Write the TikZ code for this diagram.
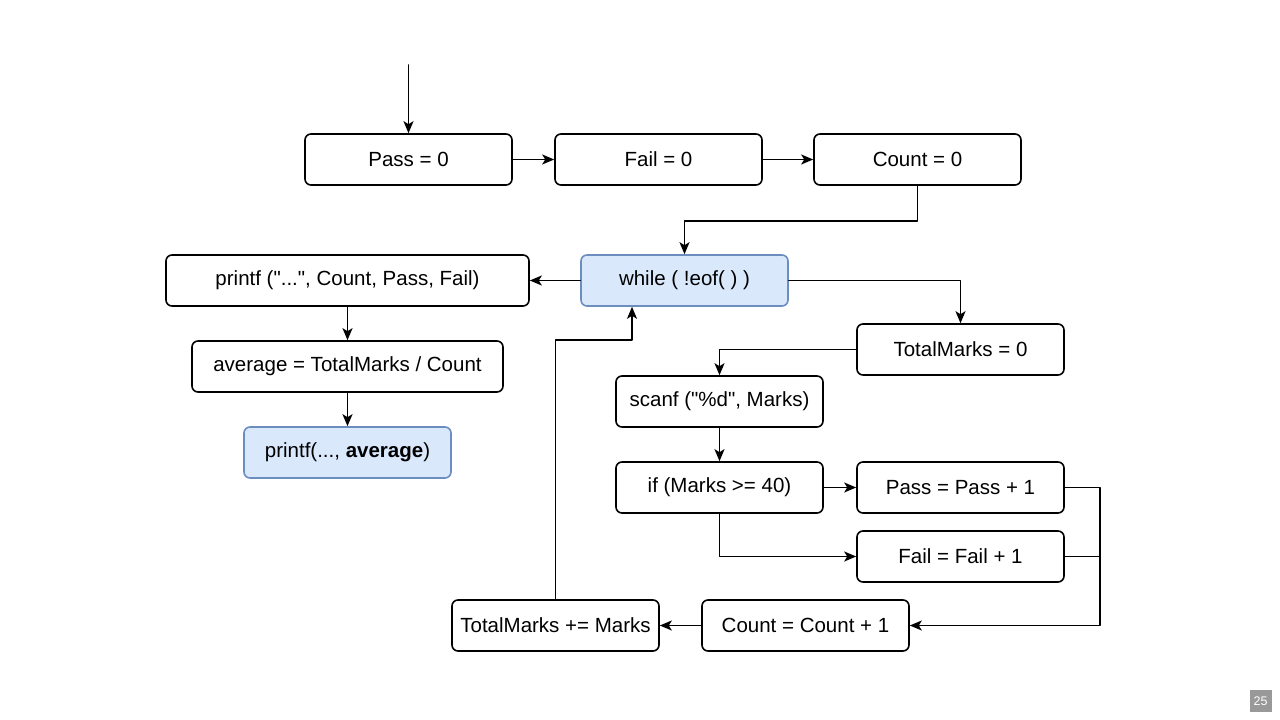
\documentclass[tikz,border=0pt]{standalone}
\usepackage{fontspec}
\setmainfont{Liberation Sans}[Ligatures=TeXOff]
\usetikzlibrary{calc}
\usetikzlibrary{arrows.meta}
\definecolor{loopfill}{HTML}{DAE8FC}
\definecolor{loopdraw}{HTML}{6C8EBF}

\begin{document}
\begin{tikzpicture}[x=1pt, y=-1pt, line cap = round, line join = round, >={Stealth[length=12pt, width=10pt, inset=3pt]}, font=\fontsize{20.5}{24}\selectfont]
\tikzstyle{stepbox}=[draw=black, rounded corners=6pt, line width=1.6pt, minimum width=207pt, minimum height=51pt, inner sep=0pt]
\tikzstyle{loopbox}=[stepbox, fill=loopfill, draw=loopdraw]
\tikzstyle{link}=[line width=1.6pt, ->]
\useasboundingbox (0,0) rectangle (1280,720);

\node[stepbox] (pass0) at (408.5,159.5) {Pass = 0};
\node[stepbox] (fail0) at (658.5,159.5) {Fail = 0};
\node[stepbox] (count0) at (917.5,159.5) {Count = 0};
\node[loopbox] (while) at (684.5,280.5) {while ( !eof( ) )};
\node[stepbox, minimum width=363pt] (print) at (347.5,280.5) {printf ("...", Count, Pass, Fail)};
\node[stepbox, minimum width=311pt] (avg) at (347.5,366.5) {average = TotalMarks / Count};
\node[loopbox] (printavg) at (347.5,452.5) {printf(..., \textbf{average})};
\node[stepbox] (tm0) at (960.5,349.5) {TotalMarks = 0};
\node[stepbox] (scan) at (719.5,401.5) {scanf ("\%d", Marks)};
\node[stepbox] (test) at (719.5,487.5) {if (Marks >= 40)};
\node[stepbox] (pass1) at (960.5,487.5) {Pass = Pass + 1};
\node[stepbox] (fail1) at (960.5,556.5) {Fail = Fail + 1};
\node[stepbox] (count1) at (805.5,625.5) {Count = Count + 1};
\node[stepbox] (tmadd) at (555.5,625.5) {TotalMarks += Marks};
\coordinate (start) at (408.5,65);

\draw[link] (start) -- (pass0.north);
\draw[link] (pass0) -- (fail0);
\draw[link] (fail0) -- (count0);
\draw[link] (count0.south) -- ++(0,35) -| (while.north);
\draw[link] (while) -- (print);
\draw[link] (print) -- (avg);
\draw[link] (avg) -- (printavg);
\draw[link] (while.east) -| (tm0.north);
\draw[link] (tm0.west) -| (scan.north);
\draw[link] (scan) -- (test);
\draw[link] (test) -- (pass1);
\draw[link] (test.south) |- (fail1.west);
\draw[link] (pass1.east) -- ++(35,0) |- (count1.east);
\draw[line width=1.6pt] (fail1.east) -- ++(35,0);
\draw[link] (count1) -- (tmadd);
\draw[link] (tmadd.north) -- ++(0,-259) -| ([xshift=-52.5pt]while.south);

\node[fill=black!40, text=white, minimum size=22pt, inner sep=0pt, font=\fontsize{12.5}{14}\selectfont] (page) at (1260.5,701) {25};
\end{tikzpicture}
\end{document}
